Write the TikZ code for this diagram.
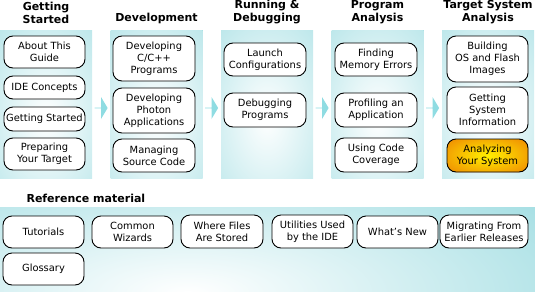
\documentclass[tikz,border=0pt]{standalone}
\usepackage{fontspec}
\setmainfont{DejaVu Sans}
\usetikzlibrary{shapes.arrows}
\definecolor{panelteal}{RGB}{141,214,220}
\definecolor{arrowteal}{RGB}{143,220,226}
\definecolor{hotorange}{RGB}{230,80,4}
\definecolor{hotyellow}{RGB}{255,240,0}
\tikzset{
 panel/.style={fill=panelteal,inner sep=0pt,minimum width=92pt,minimum height=148pt},
 glow/.style 2 args={path picture={\shade[inner color=white,outer color=panelteal]([shift={(#1)}]path picture bounding box.center) ellipse(#2);}},
 flow/.style={single arrow,fill=arrowteal,inner sep=0pt,minimum height=13pt,minimum width=22pt,single arrow head extend=5pt,single arrow tip angle=118},
 topic/.style={draw,line width=0.9pt,rounded corners=9pt,fill=white,align=center,inner sep=0pt,
  font=\fontsize{9.9}{11.8}\selectfont},
 hot/.style={fill=hotorange,path picture={\shade[inner color=hotyellow,outer color=hotorange](path picture bounding box.center) ellipse(86pt and 38pt);}},
 heading/.style={font=\fontsize{11}{13}\selectfont\bfseries,align=center,anchor=south}
}
\begin{document}
\begin{tikzpicture}[x=1pt,y=-1pt]
\useasboundingbox (0,0) rectangle (535,292);
\node[panel,glow={0pt,-14pt}{125pt and 200pt}](p1) at (46,104){};
\node[panel,glow={0pt,-14pt}{125pt and 200pt}](p2) at (156.5,104){};
\node[panel,glow={0pt,-14pt}{125pt and 200pt}](p3) at (267,104){};
\node[panel,glow={0pt,-14pt}{125pt and 200pt}](p4) at (377.5,104){};
\node[panel,glow={0pt,-14pt}{125pt and 200pt}](p5) at (488,104){};
\node[panel,minimum width=535pt,minimum height=84pt,glow={-80pt,-44pt}{560pt and 190pt}](pref) at (267.5,249){};
\foreach\ax/\an in{101/a1,211.5/a2,322/a3,432.5/a4}{\node[flow](\an) at (\ax,108){};}
\node[heading](h1) at (46,27.5){Getting\\Started};
\node[heading](h2) at (156.5,27.5){Development};
\node[heading](h3) at (267,27.5){Running \&\\Debugging};
\node[heading](h4) at (377.5,27.5){Program\\Analysis};
\node[heading](h5) at (488,27.5){Target System\\Analysis};
\node[heading,anchor=west](href) at (23,198){Reference material};
\node[topic,minimum width=81pt,minimum height=32pt](about) at (44.5,52){About This\\Guide};
\node[topic,minimum width=81pt,minimum height=23pt](concepts) at (44.5,87.5){IDE Concepts};
\node[topic,minimum width=81pt,minimum height=24pt](started) at (44.5,119){Getting Started};
\node[topic,minimum width=81pt,minimum height=32pt](target) at (44.5,154){Preparing\\Your Target};
\node[topic,minimum width=82pt,minimum height=45pt](cpp) at (154,58.5){Developing\\C/C++\\Programs};
\node[topic,minimum width=82pt,minimum height=45pt](photon) at (154,110.5){Developing\\Photon\\Applications};
\node[topic,minimum width=82pt,minimum height=33pt](source) at (154,155.5){Managing\\Source Code};
\node[topic,minimum width=82pt,minimum height=33pt](launch) at (265,59.5){Launch\\Configurations};
\node[topic,minimum width=82pt,minimum height=34pt](debug) at (265,110){Debugging\\Programs};
\node[topic,minimum width=82pt,minimum height=33pt](memory) at (376,59.5){Finding\\Memory Errors};
\node[topic,minimum width=82pt,minimum height=34pt](profile) at (376,110){Profiling an\\Application};
\node[topic,minimum width=82pt,minimum height=34pt](coverage) at (376,155){Using Code\\Coverage};
\node[topic,minimum width=81pt,minimum height=46pt](build) at (487.5,59){Building\\OS and Flash\\Images};
\node[topic,minimum width=81pt,minimum height=46pt](sysinfo) at (487.5,110){Getting\\System\\Information};
\node[topic,hot,minimum width=81pt,minimum height=33pt](analyze) at (487.5,155.5){Analyzing\\Your System};
\node[topic,minimum width=81pt,minimum height=32pt](tutorials) at (43.5,232){Tutorials};
\node[topic,minimum width=81pt,minimum height=32pt](wizards) at (132.5,232){Common\\Wizards};
\node[topic,minimum width=82pt,minimum height=33pt](files) at (222,231.5){Where Files\\Are Stored};
\node[topic,minimum width=81pt,minimum height=33pt](utils) at (312.5,231.5){Utilities Used\\by the IDE};
\node[topic,minimum width=81pt,minimum height=32pt](whatsnew) at (397.5,232){What's New};
\node[topic,minimum width=88pt,minimum height=33pt](migrate) at (484,231.5){Migrating From\\Earlier Releases};
\node[topic,minimum width=81pt,minimum height=32pt](glossary) at (43.5,269){Glossary};
\end{tikzpicture}
\end{document}
